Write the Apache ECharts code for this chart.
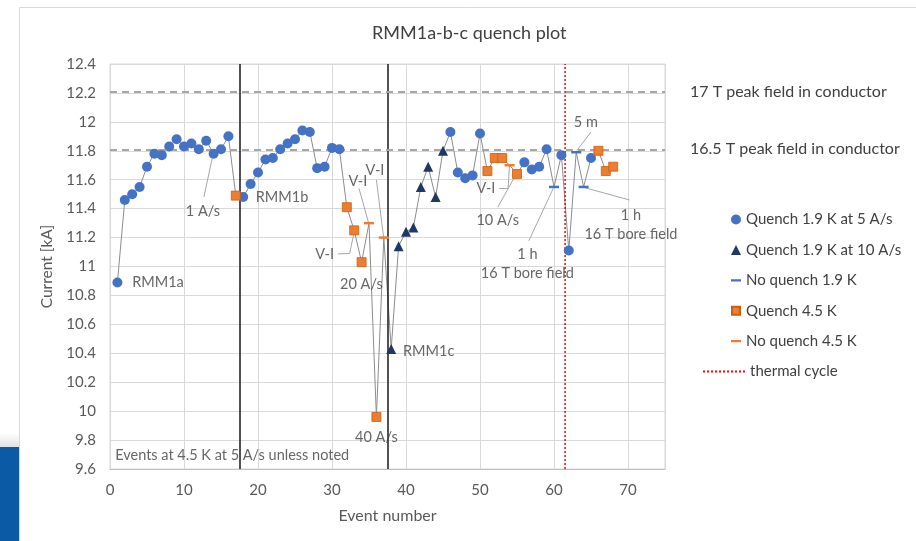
<!DOCTYPE html>
<html><head><meta charset="utf-8">
<script src="https://cdn.jsdelivr.net/npm/echarts@6/dist/echarts.min.js"></script>
<style>html,body{margin:0;padding:0;background:#fff}#chart{width:916px;height:541px}</style>
</head><body><div id="chart"></div>
<script>
// ---- data ----
const events = [1,2,3,4,5,6,7,8,9,10,11,12,13,14,15,16,17,18,19,20,21,22,23,24,25,26,27,28,29,30,31,32,33,34,35,36,37,38,39,40,41,42,43,44,45,46,47,48,49,50,51,52,53,54,55,56,57,58,59,60,61,62,63,64,65,66,67,68];
const currents = [10.89,11.46,11.50,11.55,11.69,11.78,11.77,11.83,11.88,11.83,11.85,11.81,11.87,11.78,11.81,11.90,
  11.49,
  11.48,11.57,11.65,11.74,11.75,11.81,11.85,11.88,11.94,11.93,11.68,11.69,11.82,11.81,
  11.41,11.25,11.03,11.30,9.96,11.20,
  10.43,11.14,11.24,11.27,11.55,11.69,11.48,11.80,
  11.93,11.65,11.61,11.63,11.92,
  11.66,11.75,11.75,11.70,11.64,
  11.72,11.67,11.69,11.81,11.55,11.77,11.11,11.79,11.55,11.75,
  11.80,11.66,11.69];
const eventTypes = ['Q5','Q5','Q5','Q5','Q5','Q5','Q5','Q5','Q5','Q5','Q5','Q5','Q5','Q5','Q5','Q5',
  'Q45',
  'Q5','Q5','Q5','Q5','Q5','Q5','Q5','Q5','Q5','Q5','Q5','Q5','Q5','Q5',
  'Q45','Q45','Q45','N45','Q45','N45',
  'Q10','Q10','Q10','Q10','Q10','Q10','Q10','Q10',
  'Q5','Q5','Q5','Q5','Q5',
  'Q45','Q45','Q45','N45','Q45',
  'Q5','Q5','Q5','Q5','N19','Q5','Q5','N19','N19','Q5',
  'Q45','Q45','Q45'];
const typeNames = {Q5:'Quench 1.9 K at 5 A/s', Q10:'Quench 1.9 K at 10 A/s', N19:'No quench 1.9 K', Q45:'Quench 4.5 K', N45:'No quench 4.5 K'};
const magnetBoundaries = [17.5, 37.5];
const thermalCycleEvent = 61.5;
const peakFieldLines = [
  {value: 12.21, label: '17 T peak field in conductor'},
  {value: 11.81, label: '16.5 T peak field in conductor'}
];
const xTicks = {min: 0, max: 75, interval: 10};
const yTicks = {min: 9.6, max: 12.4, interval: 0.2};
const annotations = [
  {text: 'RMM1a', x: 3.0, y: 10.89, align: 'left'},
  {text: '1 A/s', x: 12.55, y: 11.38, align: 'center'},
  {text: 'RMM1b', x: 19.7, y: 11.48, align: 'left'},
  {text: 'V-I', x: 29.0, y: 11.085, align: 'center'},
  {text: 'V-I', x: 33.5, y: 11.59, align: 'center'},
  {text: 'V-I', x: 35.8, y: 11.667, align: 'center'},
  {text: '20 A/s', x: 33.97, y: 10.88, align: 'center'},
  {text: '40 A/s', x: 36.0, y: 9.82, align: 'center'},
  {text: 'RMM1c', x: 39.6, y: 10.415, align: 'left'},
  {text: 'V-I', x: 50.8, y: 11.54, align: 'center'},
  {text: '10 A/s', x: 52.4, y: 11.316, align: 'center'},
  {text: '1 h\n16 T bore field', x: 56.4, y: 11.017, align: 'center'},
  {text: '5 m', x: 64.3, y: 12.0, align: 'center'},
  {text: '1 h\n16 T bore field', x: 70.4, y: 11.29, align: 'center'},
  {text: 'Events at 4.5 K at 5 A/s unless noted', x: 0.7, y: 9.696, align: 'left'}
];
const leaderLines = [
  [[13.9, 11.77], [12.69, 11.48]],
  [[30.8, 11.087], [32.39, 11.09], [33.0, 11.24]],
  [[33.65, 11.54], [34.95, 11.30]],
  [[36.0, 11.598], [36.98, 11.20]],
  [[52.6, 11.54], [53.8, 11.54], [53.98, 11.695]],
  [[52.4, 11.41], [54.65, 11.616]],
  [[56.6, 11.178], [59.9, 11.54]],
  [[65.0, 11.93], [63.06, 11.80]],
  [[70.2, 11.46], [64.0, 11.547]]
];

// ---- styles ----
const FONT = 'Lato';
const styles = {
  Q5: {symbol: 'circle', size: 10, color: '#4472c4', icon: 'circle'},
  Q10: {symbol: 'triangle', size: 10, color: '#203864', icon: 'triangle'},
  N19: {symbol: 'rect', size: [10, 2.5], color: '#4472c4', icon: 'path://M0,0L0.01,0M0,4h10v2.2h-10zM10,10L10.01,10'},
  Q45: {symbol: 'rect', size: 9, color: '#ed7d31', border: '#c9600f', icon: 'path://M0,0L0.01,0M1,1h8v8h-8zM10,10L10.01,10'},
  N45: {symbol: 'rect', size: [10, 2.5], color: '#ed7d31', icon: 'path://M0,0L0.01,0M0,4h10v2.2h-10zM10,10L10.01,10'}
};
const typeOrder = ['Q5', 'Q10', 'N19', 'Q45', 'N45'];

const allPoints = events.map((e, i) => [e, currents[i]]);

const series = [];
series.push({
  name: 'connect', type: 'line', data: allPoints, symbol: 'none', z: 2,
  lineStyle: {color: '#8c8c8c', width: 1}, silent: true,
  markLine: {
    silent: true, symbol: 'none', animation: false,
    label: {show: false},
    lineStyle: {color: '#262626', width: 1.6, type: 'solid'},
    data: magnetBoundaries.map(v => ({xAxis: v}))
  }
});
series.push({
  name: 'peak', type: 'line', data: [], z: 1,
  markLine: {
    silent: true, symbol: 'none', animation: false,
    lineStyle: {color: '#a6a6a6', width: 2, type: [7, 5]},
    label: {show: true, position: 'end', distance: 25, color: '#404040', fontSize: 16, fontFamily: FONT},
    data: peakFieldLines.map(p => ({yAxis: p.value, label: {formatter: p.label}}))
  }
});
typeOrder.forEach(code => {
  const st = styles[code];
  series.push({
    name: typeNames[code], type: 'scatter', z: 5,
    symbol: st.symbol, symbolSize: st.size,
    itemStyle: {color: st.color, opacity: 1, borderColor: st.border || st.color, borderWidth: st.border ? 0.8 : 0},
    data: allPoints.filter((p, i) => eventTypes[i] === code)
  });
});
series.push({
  name: 'thermal cycle', type: 'line', symbol: 'none', z: 4,
  itemStyle: {color: 'rgba(0,0,0,0)'},
  lineStyle: {color: '#ff0000', width: 1.5, type: [2, 2]},
  data: [[thermalCycleEvent, yTicks.min], [thermalCycleEvent, yTicks.max]]
});
const segs = [];
leaderLines.forEach(pl => {
  for (let i = 0; i < pl.length - 1; i++) segs.push([{coord: pl[i]}, {coord: pl[i + 1]}]);
});
series.push({
  name: 'annotations', type: 'scatter', symbolSize: 0, z: 6, silent: true,
  label: {show: true, position: 'inside', color: '#404040', fontSize: 14.5, fontFamily: FONT, lineHeight: 19},
  data: annotations.map(a => ({value: [a.x, a.y], label: {formatter: a.text, align: a.align}})),
  markLine: {
    silent: true, symbol: 'none', animation: false,
    label: {show: false},
    lineStyle: {color: '#a6a6a6', width: 1, type: 'solid'},
    data: segs
  }
});

const chart = echarts.init(document.getElementById('chart'));
chart.setOption({
  animation: false,
  textStyle: {fontFamily: FONT},
  title: {text: 'RMM1a-b-c quench plot', left: 367, top: 19,
    textStyle: {color: '#404040', fontSize: 18, fontWeight: 'normal', fontFamily: FONT}},
  graphic: [
    {type: 'rect', shape: {x: 0, y: 433, width: 19, height: 14},
      style: {fill: new echarts.graphic.LinearGradient(0, 0, 0, 1, [{offset: 0, color: '#ffffff'}, {offset: 1, color: '#e2e2e2'}])}, z: 0},
    {type: 'rect', shape: {x: 0, y: 447, width: 19, height: 94}, style: {fill: '#0b5aa6'}, z: 0},
    {type: 'rect', shape: {x: 19.5, y: 7.5, width: 1000, height: 1000}, style: {fill: 'none', stroke: '#d9d9d9', lineWidth: 1}, z: 0}
  ],
  grid: {left: 110, right: 251, top: 64, bottom: 72, show: true, borderColor: '#d9d9d9', borderWidth: 1},
  legend: [
    {data: typeOrder.map(c => ({name: typeNames[c], icon: styles[c].icon})),
      orient: 'vertical', left: 725, top: 207, itemWidth: 10, itemHeight: 10, itemGap: 15.4,
      textStyle: {color: '#404040', fontSize: 15, fontFamily: FONT}, selectedMode: false},
    {data: ['thermal cycle'], orient: 'vertical', left: 697, top: 359, itemWidth: 42, itemHeight: 10,
      textStyle: {color: '#404040', fontSize: 15, fontFamily: FONT}, selectedMode: false}
  ],
  xAxis: {
    type: 'value', min: xTicks.min, max: xTicks.max, interval: xTicks.interval,
    axisLine: {show: true, lineStyle: {color: '#bfbfbf'}}, axisTick: {show: false},
    splitLine: {show: true, lineStyle: {color: '#d9d9d9'}},
    axisLabel: {color: '#595959', fontSize: 15, margin: 14, showMaxLabel: false, fontFamily: FONT},
    name: 'Event number', nameLocation: 'middle', nameGap: 39,
    nameTextStyle: {color: '#595959', fontSize: 16, fontFamily: FONT}
  },
  yAxis: {
    type: 'value', min: yTicks.min, max: yTicks.max, interval: yTicks.interval,
    axisLine: {show: false}, axisTick: {show: false},
    splitLine: {show: true, lineStyle: {color: '#d9d9d9'}},
    axisLabel: {color: '#595959', fontSize: 15, margin: 14, fontFamily: FONT},
    name: 'Current [kA]', nameLocation: 'middle', nameGap: 52, nameRotate: 90,
    nameTextStyle: {color: '#595959', fontSize: 15.5, fontFamily: FONT}
  },
  series: series
});
</script>
</body></html>
